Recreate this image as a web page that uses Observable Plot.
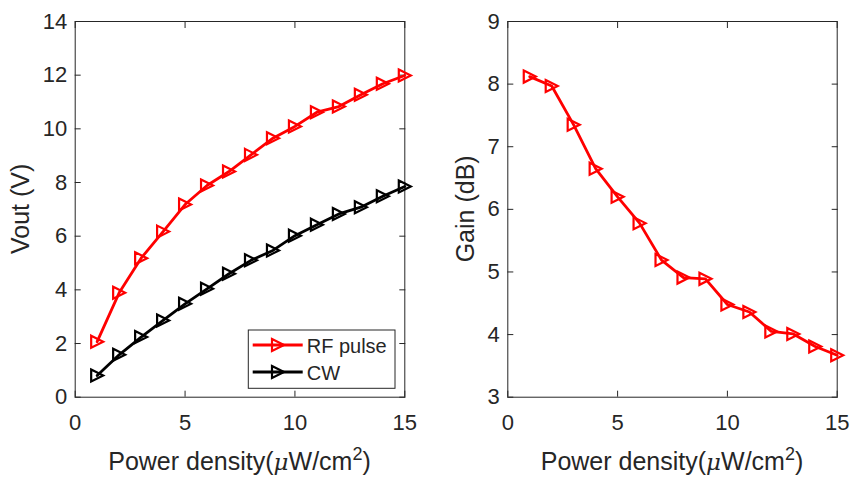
<!DOCTYPE html>
<html>
<head>
<meta charset="utf-8">
<script src="https://cdn.jsdelivr.net/npm/d3@7"></script>
<script src="https://cdn.jsdelivr.net/npm/@observablehq/plot@0.6"></script>
<style>
  html, body { margin: 0; padding: 0; background: #fff; }
  #wrap { position: relative; width: 851px; height: 478px; overflow: hidden; background: #fff; }
  #wrap > svg { position: absolute; top: 0; }
</style>
</head>
<body>
<div id="wrap"></div>
<script>
// ---- data ----
const power = [1, 2, 3, 4, 5, 6, 7, 8, 9, 10, 11, 12, 13, 14, 15];
const rfPulse = [2.07, 3.89, 5.18, 6.17, 7.18, 7.89, 8.41, 9.03, 9.65, 10.09, 10.62, 10.83, 11.27, 11.68, 11.99];
const cw = [0.81, 1.58, 2.24, 2.86, 3.48, 4.04, 4.60, 5.10, 5.47, 6.02, 6.43, 6.83, 7.08, 7.49, 7.85];
const gain = [8.12, 7.97, 7.35, 6.65, 6.20, 5.78, 5.19, 4.91, 4.89, 4.48, 4.36, 4.05, 4.01, 3.81, 3.67];
const xTicks = [0, 5, 10, 15];
const voutTicks = [0, 2, 4, 6, 8, 10, 12, 14];
const gainTicks = [3, 4, 5, 6, 7, 8, 9];
const seriesNames = ["RF pulse", "CW"];
const seriesColors = ["#ff0000", "#000000"];

const axisColor = "#262626";
const font = "'Liberation Sans', Arial, Helvetica, sans-serif";

// right-pointing open triangle (MATLAB '>')
const triRight = {
  draw(context, size) {
    const r = Math.sqrt(size / Math.PI);
    context.moveTo(-r, -r);
    context.lineTo(r, 0);
    context.lineTo(-r, r);
    context.closePath();
  }
};

function boxAxes(yTicks) {
  return [
    Plot.frame({stroke: axisColor, strokeWidth: 1}),
    Plot.axisX(xTicks, {anchor: "bottom", tickSize: 6, dy: -6, fill: null, label: null, stroke: axisColor}),
    Plot.axisX(xTicks, {anchor: "top", tickSize: 6, dy: 6, fill: null, label: null, stroke: axisColor}),
    Plot.axisY(yTicks, {anchor: "left", tickSize: 6, dx: 6, fill: null, label: null, stroke: axisColor}),
    Plot.axisY(yTicks, {anchor: "right", tickSize: 6, dx: -6, fill: null, label: null, stroke: axisColor}),
    Plot.axisX(xTicks, {anchor: "bottom", tickSize: 0, tickPadding: 17, label: null, fill: axisColor, fontSize: 22, tickFormat: d => String(d)}),
    Plot.axisY(yTicks, {anchor: "left", tickSize: 0, tickPadding: 8, label: null, fill: axisColor, fontSize: 22, tickFormat: d => String(d)})
  ];
}

function seriesMarks(ys, color) {
  const rows = power.map((p, i) => ({x: p, y: ys[i]}));
  return [
    Plot.line(rows, {x: "x", y: "y", stroke: color, strokeWidth: 2.8}),
    Plot.dot(rows, {x: "x", y: "y", symbol: triRight, r: 6, stroke: color, strokeWidth: 2.2, fill: "none"})
  ];
}

const plotStyle = {fontFamily: font, fontSize: "22px", color: axisColor, background: "transparent", overflow: "visible"};

const left = Plot.plot({
  width: 430, height: 478,
  marginLeft: 74.7, marginRight: 25.7, marginTop: 21, marginBottom: 81.3,
  x: {domain: [0, 15]},
  y: {domain: [0, 14]},
  style: plotStyle,
  marks: [
    ...boxAxes(voutTicks),
    ...seriesMarks(rfPulse, seriesColors[0]),
    ...seriesMarks(cw, seriesColors[1])
  ]
});

const right = Plot.plot({
  width: 421, height: 478,
  marginLeft: 77.3, marginRight: 14.3, marginTop: 21, marginBottom: 81.3,
  x: {domain: [0, 15]},
  y: {domain: [3, 9]},
  style: plotStyle,
  marks: [
    ...boxAxes(gainTicks),
    ...seriesMarks(gain, seriesColors[0])
  ]
});

const wrap = document.getElementById("wrap");
left.style.left = "0px";
right.style.left = "430px";
wrap.appendChild(left);
wrap.appendChild(right);

function addLabels(svg, yLabel, yBaselineX) {
  const sx = svg.scale("x");
  const sy = svg.scale("y");
  const cx = (sx.range[0] + sx.range[1]) / 2;
  const cy = (sy.range[0] + sy.range[1]) / 2;
  const s = d3.select(svg);
  const t = s.append("text")
    .attr("x", cx).attr("y", 470)
    .attr("text-anchor", "middle")
    .attr("font-family", font).attr("font-size", 25).attr("fill", axisColor);
  t.append("tspan").text("Power density(");
  t.append("tspan").attr("font-style", "italic").attr("font-family", "'DejaVu Serif', 'Liberation Serif', serif").attr("font-size", 23).text("μ");
  t.append("tspan").text("W/cm");
  t.append("tspan").attr("font-size", 18).attr("dy", -10).text("2");
  t.append("tspan").attr("dy", 10).text(")");
  s.append("text")
    .attr("transform", `translate(${yBaselineX},${cy}) rotate(-90)`)
    .attr("text-anchor", "middle")
    .attr("font-family", font).attr("font-size", 25).attr("fill", axisColor)
    .text(yLabel);
}
addLabels(left, "Vout (V)", 29);
addLabels(right, "Gain (dB)", 474 - 430);

// legend in the left panel (lower right corner)
{
  const s = d3.select(left);
  const g = s.append("g").attr("font-family", font).attr("font-size", 20).attr("fill", axisColor)
    .attr("text-anchor", "start");
  g.append("rect").attr("x", 248.3).attr("y", 330).attr("width", 146.7).attr("height", 58.3)
    .attr("fill", "white").attr("stroke", axisColor).attr("stroke-width", 1);
  const rowsY = [345, 372];
  seriesNames.forEach((name, i) => {
    const y = rowsY[i];
    g.append("line").attr("x1", 252.7).attr("x2", 302.7).attr("y1", y).attr("y2", y)
      .attr("stroke", seriesColors[i]).attr("stroke-width", 2.8);
    g.append("path").attr("transform", `translate(278,${y})`)
      .attr("d", d3.symbol(triRight, 36 * Math.PI)())
      .attr("fill", "none").attr("stroke", seriesColors[i]).attr("stroke-width", 2.2);
    g.append("text").attr("x", 306.7).attr("y", y + 7.5).attr("text-anchor", "start").text(name);
  });
}
</script>
</body>
</html>
